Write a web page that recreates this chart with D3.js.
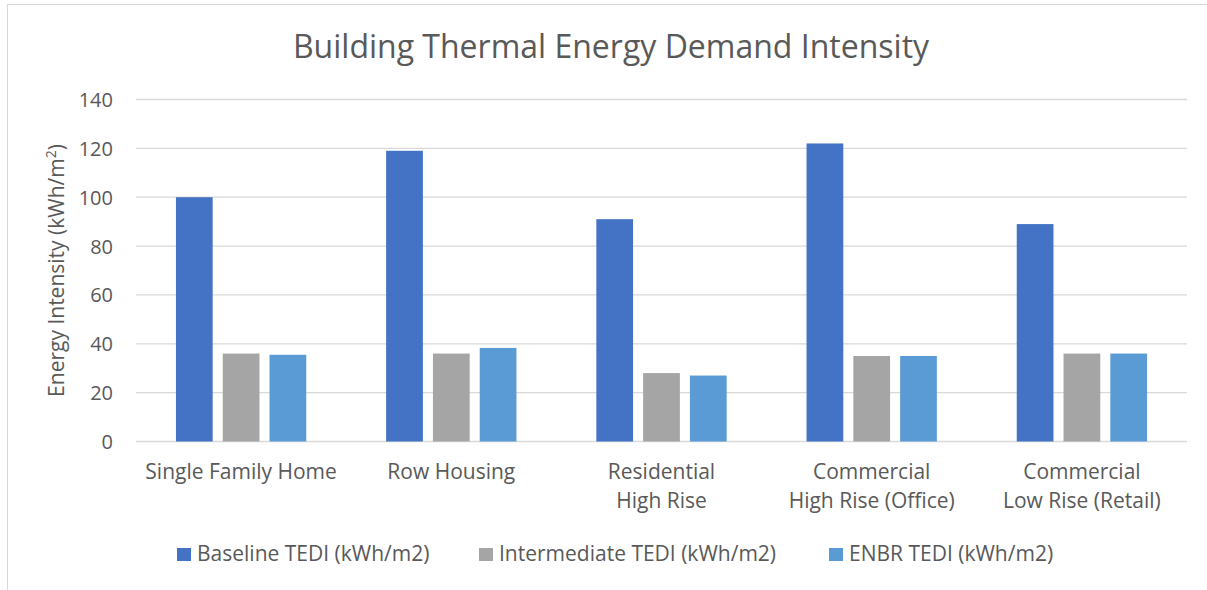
<!DOCTYPE html>
<html>
<head>
<meta charset="utf-8">
<script src="https://cdn.jsdelivr.net/npm/d3@7"></script>
<style>
  body { margin: 0; background: #fff; }
  text { font-family: "Open Sans", sans-serif; fill: #595959; }
</style>
</head>
<body>
<svg id="chart"></svg>
<script>
const categories = [
    ["Single Family Home"],
    ["Row Housing"],
    ["Residential", "High Rise"],
    ["Commercial", "High Rise (Office)"],
    ["Commercial", "Low Rise (Retail)"]
];
const seriesNames = ["Baseline TEDI (kWh/m2)", "Intermediate TEDI (kWh/m2)", "ENBR TEDI (kWh/m2)"];
const baseline = [100, 119, 91, 122, 89];
const intermediate = [36, 36, 28, 35, 36];
const enbr = [35.5, 38.3, 27, 35, 36];
const yTicks = [0, 20, 40, 60, 80, 100, 120, 140];
const colors = ["#4472c4", "#a5a5a5", "#5b9bd5"];

const width = 1207;
const height = 590;
const margin = { left: 136, right: 1187 };

const svg = d3.select("#chart")
    .attr("width", width)
    .attr("height", height);

svg.append("rect")
    .attr("x", 7.5).attr("y", 4.5)
    .attr("width", width).attr("height", height)
    .attr("fill", "#fff")
    .attr("stroke", "#d9d9d9");

const series = [baseline, intermediate, enbr];
const keys = categories.map((c, i) => i);

const x0 = d3.scaleBand()
    .domain(keys)
    .range([margin.left, margin.right])
    .paddingInner(0.38)
    .paddingOuter(0.19);

const x1 = d3.scaleBand()
    .domain([0, 1, 2])
    .range([0, x0.bandwidth()])
    .paddingInner(0.215);

const y = d3.scaleLinear()
    .domain([0, 140])
    .range([441.5, 99.5]);

// gridlines
svg.append("g")
    .selectAll("line")
    .data(yTicks)
    .enter().append("line")
    .attr("x1", margin.left)
    .attr("x2", margin.right)
    .attr("y1", d => y(d))
    .attr("y2", d => y(d))
    .attr("stroke", "#d9d9d9")
    .attr("stroke-width", 1.3);

// y tick labels
svg.append("g")
    .selectAll("text")
    .data(yTicks)
    .enter().append("text")
    .attr("x", 113)
    .attr("y", d => y(d))
    .attr("text-anchor", "end")
    .attr("dominant-baseline", "central")
    .attr("font-size", 20)
    .text(d => d);

// bars
const groups = svg.append("g")
    .selectAll("g")
    .data(keys)
    .enter().append("g")
    .attr("transform", d => `translate(${x0(d)},0)`);

groups.selectAll("rect")
    .data(i => series.map((s, k) => ({ k: k, v: s[i] })))
    .enter().append("rect")
    .attr("x", d => x1(d.k))
    .attr("y", d => y(d.v))
    .attr("width", x1.bandwidth())
    .attr("height", d => y(0) - y(d.v))
    .attr("fill", d => colors[d.k]);

// category labels
svg.append("g")
    .selectAll("text")
    .data(keys)
    .enter().append("text")
    .attr("x", d => x0(d) + x0.bandwidth() / 2)
    .attr("y", 479)
    .attr("text-anchor", "middle")
    .attr("font-size", 21)
    .each(function (d) {
        categories[d].forEach((line, j) => {
            d3.select(this).append("tspan")
                .attr("x", x0(d) + x0.bandwidth() / 2)
                .attr("dy", j === 0 ? 0 : 29)
                .text(line);
        });
    });

// title
svg.append("text")
    .attr("x", 611)
    .attr("y", 58)
    .attr("text-anchor", "middle")
    .attr("font-size", 32)
    .text("Building Thermal Energy Demand Intensity");

// y axis title
const yTitle = svg.append("text")
    .attr("transform", `translate(64,${y(70)}) rotate(-90)`)
    .attr("text-anchor", "middle")
    .attr("font-size", 21);
yTitle.append("tspan").text("Energy Intensity (kWh/m");
yTitle.append("tspan").attr("font-size", 14).attr("dy", -8).text("2");
yTitle.append("tspan").attr("dy", 8).text(")");

// legend
const legendX = [177, 479, 829];
const legend = svg.append("g")
    .selectAll("g")
    .data(seriesNames)
    .enter().append("g")
    .attr("transform", (d, i) => `translate(${legendX[i]},553)`);

legend.append("rect")
    .attr("x", 0).attr("y", -5)
    .attr("width", 14).attr("height", 13)
    .attr("fill", (d, i) => colors[i]);

legend.append("text")
    .attr("x", 20)
    .attr("y", 0)
    .attr("dominant-baseline", "central")
    .attr("font-size", 21)
    .text(d => d);
</script>
</body>
</html>
